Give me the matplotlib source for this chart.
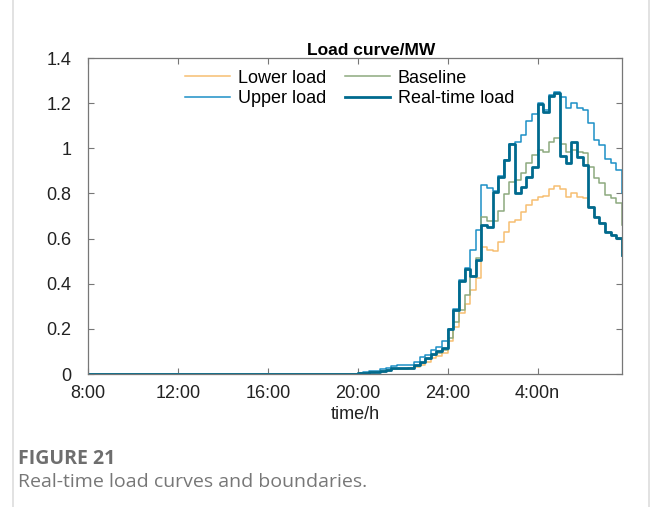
import numpy as np
import matplotlib
matplotlib.use('Agg')
import matplotlib.pyplot as plt
from matplotlib.lines import Line2D

# 15-min intervals, 8:00 -> 7:45 next day (index 1..96)
steps = np.arange(1, 97)
zeros = [0.0] * 48  # flat until 20:00

lower_load = zeros + [
    0.002, 0.004, 0.006, 0.008, 0.01, 0.014, 0.02, 0.021, 0.021, 0.022, 0.03, 0.04, 0.055, 0.07, 0.082, 0.092,
    0.148, 0.21, 0.272, 0.312, 0.37, 0.426, 0.561, 0.55, 0.543, 0.584, 0.627, 0.675, 0.682, 0.719, 0.749, 0.771,
    0.783, 0.79, 0.818, 0.833, 0.818, 0.786, 0.80, 0.786, 0.78, 0.741, 0.697, 0.668, 0.63, 0.616, 0.603, 0.527]
upper_load = zeros + [
    0.005, 0.008, 0.012, 0.015, 0.02, 0.028, 0.037, 0.038, 0.038, 0.04, 0.052, 0.075, 0.085, 0.105, 0.118, 0.148,
    0.2, 0.287, 0.416, 0.47, 0.55, 0.638, 0.837, 0.822, 0.81, 0.876, 0.95, 1.021, 1.03, 1.06, 1.12, 1.153,
    1.2, 1.168, 1.236, 1.248, 1.228, 1.18, 1.2, 1.18, 1.17, 1.11, 1.037, 1.015, 0.951, 0.933, 0.904, 0.80]
baseline = zeros + [
    0.003, 0.005, 0.008, 0.01, 0.013, 0.017, 0.023, 0.024, 0.024, 0.025, 0.037, 0.05, 0.065, 0.083, 0.095, 0.108,
    0.158, 0.232, 0.283, 0.35, 0.435, 0.515, 0.697, 0.678, 0.678, 0.72, 0.797, 0.852, 0.86, 0.89, 0.935, 0.97,
    0.992, 0.985, 1.029, 1.044, 1.02, 0.985, 0.993, 0.985, 0.978, 0.918, 0.867, 0.845, 0.793, 0.78, 0.756, 0.66]
realtime = zeros + [
    0.004, 0.006, 0.009, 0.011, 0.014, 0.019, 0.026, 0.027, 0.027, 0.028, 0.042, 0.055, 0.07, 0.09, 0.104, 0.116,
    0.198, 0.284, 0.413, 0.466, 0.433, 0.505, 0.662, 0.652, 0.808, 0.873, 0.948, 1.019, 0.80, 0.83, 0.874, 0.916,
    1.196, 1.162, 1.232, 1.246, 0.966, 0.933, 1.026, 0.96, 0.926, 0.741, 0.697, 0.668, 0.63, 0.616, 0.603, 0.527]

xtick_pos = [1, 17, 33, 49, 65, 81]
xtick_labels = ['8:00', '12:00', '16:00', '20:00', '24:00', '4:00n']
ytick_pos = [0, 0.2, 0.4, 0.6, 0.8, 1.0, 1.2, 1.4]
ytick_labels = ['0', '0.2', '0.4', '0.6', '0.8', '1', '1.2', '1.4']

plt.rcParams['font.family'] = ['Liberation Sans', 'DejaVu Sans']

fig = plt.figure(figsize=(6.56, 5.07), dpi=100)
ax = fig.add_axes([0.134, 0.2623, 0.814, 0.6233])

c_low, c_up, c_base, c_rt = '#F7BF72', '#1C90C6', '#8DAA7F', '#006A8E'
ax.step(steps, lower_load, where='post', color=c_low, lw=1.1)
ax.step(steps, upper_load, where='post', color=c_up, lw=1.1)
ax.step(steps, baseline, where='post', color=c_base, lw=1.1)
ax.step(steps, realtime, where='post', color=c_rt, lw=2.0)

ax.set_xlim(1, 96)
ax.set_ylim(0, 1.4)
ax.set_xticks(xtick_pos)
ax.set_xticklabels(xtick_labels)
ax.set_yticks(ytick_pos)
ax.set_yticklabels(ytick_labels)
ax.tick_params(direction='in', length=4, width=0.8, colors='#777777',
               labelcolor='#222222', labelsize=13, top=True, right=True)
ax.tick_params(axis='x', pad=8)
ax.tick_params(axis='y', pad=12)
for s in ax.spines.values():
    s.set_color('#777777')
    s.set_linewidth(0.9)

ax.set_xlabel('time/h', fontsize=13, color='#222222', labelpad=3)
ax.set_title('Load curve/MW', fontsize=12.5, fontweight='bold', x=0.53, pad=2)

handles = [Line2D([], [], color=c_low, lw=1.1), Line2D([], [], color=c_up, lw=1.1),
           Line2D([], [], color=c_base, lw=1.1), Line2D([], [], color=c_rt, lw=2.0)]
names = ['Lower load', 'Upper load', 'Baseline', 'Real-time load']
ax.legend(handles, names, ncol=2, frameon=False, fontsize=13, loc='upper center',
          bbox_to_anchor=(0.49, 1.015), handlelength=2.5, columnspacing=1.0,
          labelspacing=0.2, handletextpad=0.45)

# page frame and caption
fig.add_artist(Line2D([0.02, 0.02], [0, 1], color='#DDDDDD', lw=1.2))
fig.add_artist(Line2D([0.99, 0.99], [0, 1], color='#DDDDDD', lw=1.2))
fig.text(0.027, 0.094, 'FIGURE 21', fontsize=14, fontweight='bold', color='#6E6E6E',
         family=['Open Sans', 'DejaVu Sans'], va='center')
fig.text(0.027, 0.049, 'Real-time load curves and boundaries.', fontsize=14, color='#777777',
         family=['Open Sans', 'DejaVu Sans'], va='center')

fig.savefig('out.png', dpi=100)
